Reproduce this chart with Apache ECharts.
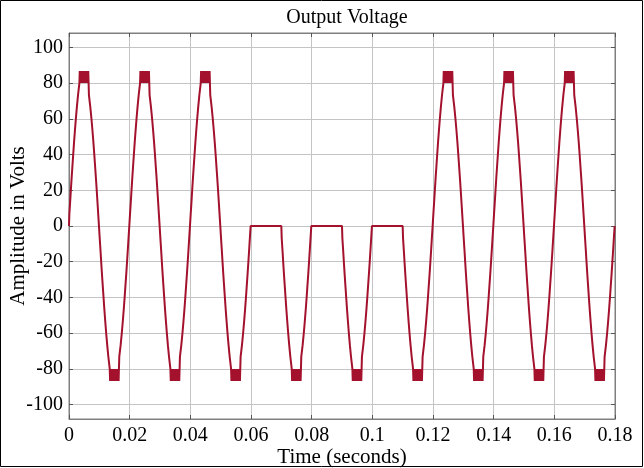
<!DOCTYPE html>
<html>
<head>
<meta charset="utf-8">
<script src="https://cdn.jsdelivr.net/npm/echarts@6/dist/echarts.min.js"></script>
<style>
  html, body { margin: 0; padding: 0; background: #fff; }
  #main { width: 644px; height: 468px; }
</style>
</head>
<body>
<div id="main"></div>
<script>
// x ticks (seconds) and y ticks (volts)
var xTicks = [0, 0.02, 0.04, 0.06, 0.08, 0.1, 0.12, 0.14, 0.16, 0.18];
var yTicks = [-100, -80, -60, -40, -20, 0, 20, 40, 60, 80, 100];

// one positive half cycle of the staircase
// step times in ms from the zero crossing, and the level reached at each step
var stepTimes  = [0.12, 0.37, 0.61, 0.86, 1.12, 1.39, 1.66, 1.95, 2.26, 2.60, 2.98, 3.43];
var stepLevels = [6.7, 13.3, 20, 26.7, 33.3, 40, 46.7, 53.3, 60, 66.7, 73.3, 80];
// switching at the crest between 80 and 86.7 V
var crestTimes = [3.55, 3.75, 3.95, 4.15, 4.35, 4.55, 4.75, 4.95, 5.15, 5.35, 5.55, 5.75, 5.95, 6.15, 6.35];
var crestHigh = 86.7;
var crestLow = 80;
var halfPeriodMs = 10;

// what each 20 ms cycle does with its positive half: 1 = normal, 0 = held at zero
var cyclePositive = [1, 1, 1, 0, 0, 0, 1, 1, 1];

function halfCycle(t0, sign) {
    var pts = [];
    var lvl = 0, i;
    pts.push([t0, 0]);
    for (i = 0; i < stepTimes.length; i++) {
        var t = t0 + stepTimes[i] / 1000;
        pts.push([t, sign * lvl]);
        lvl = stepLevels[i];
        pts.push([t, sign * lvl]);
    }
    for (i = 0; i < crestTimes.length; i++) {
        var tc = t0 + crestTimes[i] / 1000;
        var next = (i % 2 === 0) ? crestHigh : crestLow;
        pts.push([tc, sign * lvl]);
        lvl = next;
        pts.push([tc, sign * lvl]);
    }
    for (i = stepTimes.length - 1; i >= 0; i--) {
        var td = t0 + (halfPeriodMs - stepTimes[i]) / 1000;
        pts.push([td, sign * lvl]);
        lvl = i > 0 ? stepLevels[i - 1] : 0;
        pts.push([td, sign * lvl]);
    }
    pts.push([t0 + halfPeriodMs / 1000, 0]);
    return pts;
}

var waveData = [];
for (var c = 0; c < cyclePositive.length; c++) {
    var tStart = c * 0.02;
    if (cyclePositive[c]) {
        waveData = waveData.concat(halfCycle(tStart, 1));
    } else {
        waveData.push([tStart, 0], [tStart + 0.01, 0]);
    }
    waveData = waveData.concat(halfCycle(tStart + 0.01, -1));
}

var serif = '"Liberation Serif", "Times New Roman", serif';
var frameColor = '#7f7f7f';
var gridColor = '#c4c4c4';

var chart = echarts.init(document.getElementById('main'));
var option = {
    backgroundColor: '#fff',
    animation: false,
    grid: { left: 69, right: 29, top: 33, bottom: 49, outerBoundsMode: 'none',
            show: true, borderColor: frameColor, borderWidth: 1 },
    graphic: [
        { type: 'rect', shape: { x: 0.5, y: 0.5, width: 642, height: 466 },
          style: { fill: 'none', stroke: '#000', lineWidth: 1 }, silent: true },
        { type: 'text', x: 347, y: 18,
          style: { text: 'Output Voltage', font: '20px ' + serif, fill: '#000', textAlign: 'center', textVerticalAlign: 'middle' } }
    ],
    xAxis: [
        {
            type: 'value', min: 0, max: 0.18, interval: 0.02,
            name: 'Time (seconds)', nameLocation: 'middle', nameGap: 28, nameMoveOverlap: false,
            nameTextStyle: { fontFamily: serif, fontSize: 21, color: '#000' },
            axisLine: { onZero: false, lineStyle: { color: frameColor } },
            axisTick: { inside: true, length: 4, lineStyle: { color: '#555' } },
            axisLabel: { fontFamily: serif, fontSize: 20, color: '#000', margin: 7,
                formatter: function (v) { return String(parseFloat(v.toFixed(2))); } },
            splitLine: { show: true, lineStyle: { color: gridColor } }
        },
        {
            type: 'value', position: 'top', min: 0, max: 0.18, interval: 0.02,
            axisLine: { onZero: false, lineStyle: { color: frameColor } },
            axisTick: { inside: true, length: 4, lineStyle: { color: '#555' } },
            axisLabel: { show: false }, splitLine: { show: false }
        }
    ],
    yAxis: [
        {
            type: 'value', min: -108, max: 108,
            name: 'Amplitude in Volts', nameLocation: 'middle', nameGap: 40, nameMoveOverlap: false,
            nameTextStyle: { fontFamily: serif, fontSize: 21, color: '#000' },
            axisLine: { onZero: false, lineStyle: { color: frameColor } },
            axisTick: { inside: true, length: 4, customValues: yTicks, lineStyle: { color: '#555' } },
            axisLabel: { fontFamily: serif, fontSize: 20, color: '#000', margin: 6, customValues: yTicks },
            splitLine: { show: true, lineStyle: { color: gridColor } }
        },
        {
            type: 'value', position: 'right', min: -108, max: 108,
            axisLine: { show: true, onZero: false, lineStyle: { color: frameColor } },
            axisTick: { show: true, inside: true, length: 4, customValues: yTicks, lineStyle: { color: '#555' } },
            axisLabel: { show: false }, splitLine: { show: false }
        }
    ],
    series: [
        {
            type: 'line', xAxisIndex: 0, yAxisIndex: 0,
            data: waveData, showSymbol: false, symbol: 'none',
            lineStyle: { color: '#a3112d', width: 2 },
            z: 5
        }
    ]
};
chart.setOption(option);
</script>
</body>
</html>
